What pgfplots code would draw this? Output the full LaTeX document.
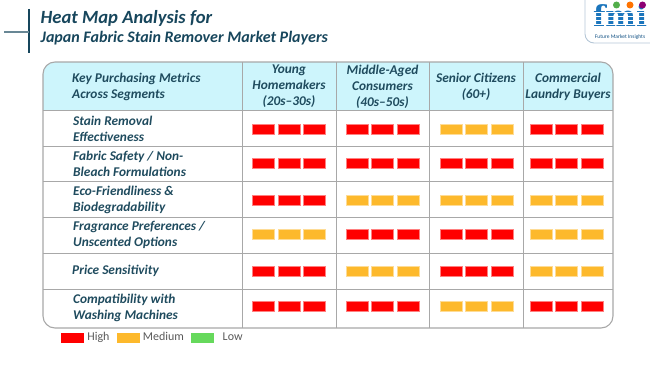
\documentclass[border=0pt]{standalone}
\usepackage{fontspec}
\setmainfont{Carlito}
\newfontfamily\logofont{DejaVu Serif}
\usepackage{pgfplots}
\usepackage{pgfplotstable}
\pgfplotsset{compat=1.18}

\definecolor{titlec}{HTML}{17465C}
\definecolor{txtc}{HTML}{1F4B5E}
\definecolor{gridc}{HTML}{A8A8A8}
\definecolor{hdr}{HTML}{CDF5FC}
\definecolor{hred}{HTML}{FF0000}
\definecolor{hmed}{HTML}{FDB92C}
\definecolor{hlow}{HTML}{66D95C}
\definecolor{legtext}{HTML}{595959}
\definecolor{fmiblue}{HTML}{1B75BC}
\definecolor{logoborder}{HTML}{B4C6D6}

\pgfdeclareplotmark{hblk}{%
  \pgfpathrectangle{\pgfpoint{-11bp}{-4.8bp}}{\pgfpoint{22bp}{9.6bp}}%
  \pgfusepathqfillstroke}

\pgfplotstableread{
x y lvl
289 129 H
382.5 129 H
476.5 129 M
566.7 129 H
289 163.5 H
382.5 163.5 H
476.5 163.5 H
566.7 163.5 H
289 200 H
382.5 200 M
476.5 200 M
566.7 200 M
289 234.5 M
382.5 234.5 H
476.5 234.5 H
566.7 234.5 M
289 271 H
382.5 271 M
476.5 271 H
566.7 271 M
289 306.5 H
382.5 306.5 H
476.5 306.5 M
566.7 306.5 H
}\heat

\pgfplotsset{
  heatstyle/.style={scatter, only marks, forget plot, line width=0.5bp,
    scatter src=explicit symbolic,
    scatter/classes={
      H={mark=hblk, fill=hred, draw=hred!50!white},
      M={mark=hblk, fill=hmed, draw=hmed!50!white},
      L={mark=hblk, fill=hlow, draw=hlow!50!white}}},
  swatch/.style={legend image code/.code={\fill[#1] (0bp,-4.5bp) rectangle (22bp,4.5bp);}}
}

\begin{document}
\begin{tikzpicture}
\begin{axis}[name=ax, scale only axis, width=650bp, height=365bp,
  xmin=0, xmax=650, ymin=0, ymax=365, y dir=reverse,
  hide axis, clip=false,
  legend columns=3,
  legend style={at={(axis cs:61,337.5)}, anchor=west, draw=none, fill=none,
    font=\fontsize{12}{14}\selectfont\color{legtext},
    nodes={inner sep=0pt},
    /tikz/every odd column/.append style={column sep=4bp},
    /tikz/every even column/.append style={column sep=7bp},
    inner sep=0pt, outer sep=0pt},
  legend cell align=left]

% header fill
\begin{scope}
\clip[rounded corners=12bp] (axis cs:43,62) rectangle (axis cs:613,328);
\fill[hdr] (axis cs:43,62) rectangle (axis cs:613,110);
\end{scope}
% grid
\draw[gridc, line width=1bp] (axis cs:43,110) -- (axis cs:613,110);
\draw[gridc, line width=1bp] (axis cs:43,146) -- (axis cs:613,146);
\draw[gridc, line width=1bp] (axis cs:43,181.5) -- (axis cs:613,181.5);
\draw[gridc, line width=1bp] (axis cs:43,217) -- (axis cs:613,217);
\draw[gridc, line width=1bp] (axis cs:43,253) -- (axis cs:613,253);
\draw[gridc, line width=1bp] (axis cs:43,289) -- (axis cs:613,289);
\draw[gridc, line width=1bp] (axis cs:242,62) -- (axis cs:242,328);
\draw[gridc, line width=1bp] (axis cs:336,62) -- (axis cs:336,328);
\draw[gridc, line width=1bp] (axis cs:429,62) -- (axis cs:429,328);
\draw[gridc, line width=1bp] (axis cs:523,62) -- (axis cs:523,328);
\draw[gridc, line width=1.1bp, rounded corners=12bp] (axis cs:43,62) rectangle (axis cs:613,328);

% title
\draw[titlec, line width=2.6bp] (axis cs:29,9) -- (axis cs:29,53);
\draw[titlec!65!white, line width=1.4bp] (axis cs:4,32) -- (axis cs:29,32);
\node[anchor=base west, inner sep=0pt, text=titlec, font=\fontsize{18.7}{20}\selectfont\bfseries\itshape]
  at (axis cs:40.5,24) {Heat Map Analysis for};
\node[anchor=base west, inner sep=0pt, text=titlec, font=\fontsize{16.1}{17}\selectfont\bfseries\itshape]
  at (axis cs:40.5,43) {Japan Fabric Stain Remover Market Players};

% logo
\draw[logoborder, line width=0.9bp, rounded corners=9bp] (axis cs:585,-5) -- (axis cs:585,43) -- (axis cs:660,43);
\node[text=fmiblue, inner sep=0pt, anchor=base, text depth=0pt, font=\fontsize{29}{29}\logofont\bfseries] at (axis cs:620,27) {fmi};
\draw[white, line width=0.6bp] (axis cs:590,12) -- (axis cs:650,12);
\draw[white, line width=0.6bp] (axis cs:590,16) -- (axis cs:650,16);
\draw[white, line width=0.6bp] (axis cs:590,20) -- (axis cs:650,20);
\draw[white, line width=0.6bp] (axis cs:590,24) -- (axis cs:650,24);
\fill[hlow!80!black] (axis cs:616.5,5) circle[radius=3.5bp];
\fill[orange!90!red] (axis cs:630,5) circle[radius=3.5bp];
\fill[violet!80!purple] (axis cs:642.5,5) circle[radius=3.5bp];
\node[text=fmiblue!70!black, inner sep=0pt, font=\fontsize{5.5}{6}\selectfont] at (axis cs:620,37.5) {Future Market Insights};

% header labels
\node[text=txtc, inner sep=0pt, font=\fontsize{13.4}{16}\selectfont\bfseries\itshape, anchor=west, align=left] at (axis cs:72,86.5) {Key Purchasing Metrics\\Across Segments};
\node[text=txtc, inner sep=0pt, font=\fontsize{13.4}{16}\selectfont\bfseries\itshape, align=center] at (axis cs:289,86.5) {Young\\Homemakers\\(20s--30s)};
\node[text=txtc, inner sep=0pt, font=\fontsize{13.4}{16}\selectfont\bfseries\itshape, align=center] at (axis cs:382.5,86.5) {Middle-Aged\\Consumers\\(40s--50s)};
\node[text=txtc, inner sep=0pt, font=\fontsize{13.4}{16}\selectfont\bfseries\itshape, align=center] at (axis cs:476,86.5) {Senior Citizens\\(60+)};
\node[text=txtc, inner sep=0pt, font=\fontsize{13.4}{16}\selectfont\bfseries\itshape, align=center] at (axis cs:568,86.5) {Commercial\\Laundry Buyers};

% row labels
\node[text=txtc, inner sep=0pt, font=\fontsize{13.4}{16}\selectfont\bfseries\itshape, anchor=west, align=left] at (axis cs:73,129) {Stain Removal\\Effectiveness};
\node[text=txtc, inner sep=0pt, font=\fontsize{13.4}{16}\selectfont\bfseries\itshape, anchor=west, align=left] at (axis cs:73,164) {Fabric Safety / Non-\\Bleach Formulations};
\node[text=txtc, inner sep=0pt, font=\fontsize{13.4}{16}\selectfont\bfseries\itshape, anchor=west, align=left] at (axis cs:73,199.5) {Eco-Friendliness \&\\Biodegradability};
\node[text=txtc, inner sep=0pt, font=\fontsize{13.4}{16}\selectfont\bfseries\itshape, anchor=west, align=left] at (axis cs:73,235) {Fragrance Preferences /\\Unscented Options};
\node[text=txtc, inner sep=0pt, font=\fontsize{13.4}{16}\selectfont\bfseries\itshape, anchor=west, align=left] at (axis cs:72,271) {Price Sensitivity};
\node[text=txtc, inner sep=0pt, font=\fontsize{13.4}{16}\selectfont\bfseries\itshape, anchor=west, align=left] at (axis cs:73,307.5) {Compatibility with\\Washing Machines};

% heat blocks
\addplot[heatstyle] table[x expr=\thisrow{x}-25.5, y=y, meta=lvl] {\heat};
\addplot[heatstyle] table[x=x, y=y, meta=lvl] {\heat};
\addplot[heatstyle] table[x expr=\thisrow{x}+25.5, y=y, meta=lvl] {\heat};

% legend
\addlegendimage{swatch=hred}
\addlegendentry{High}
\addlegendimage{swatch=hmed}
\addlegendentry{Medium}
\addlegendimage{swatch=hlow}
\addlegendentry{\ \ Low}
\end{axis}
\pgfresetboundingbox
\useasboundingbox (ax.south west) rectangle (ax.north east);
\end{tikzpicture}
\end{document}
